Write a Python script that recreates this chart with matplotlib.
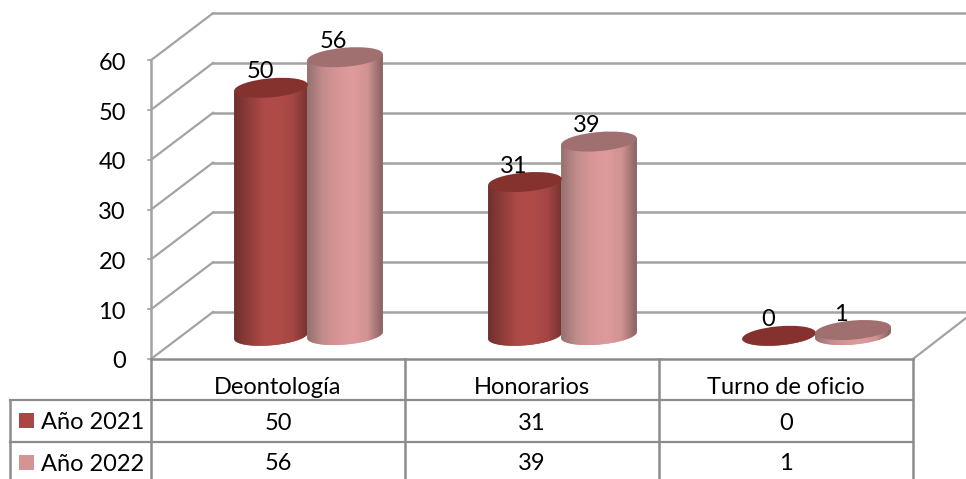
import matplotlib
matplotlib.use('Agg')
import matplotlib.pyplot as plt
from matplotlib.colors import LinearSegmentedColormap
from matplotlib.patches import Ellipse, Polygon, Rectangle
import numpy as np

# data
categories = ['Deontología', 'Honorarios', 'Turno de oficio']
anio_2021 = [50, 31, 0]
anio_2022 = [56, 39, 1]
y_ticks = [0, 10, 20, 30, 40, 50, 60]
series_names = ['Año 2021', 'Año 2022']

plt.rcParams['font.family'] = ['Lato', 'DejaVu Sans']
FS = 17.0
GRID = '#a3a3a3'
BORDER = '#8c8c8c'

fig = plt.figure(figsize=(9.66, 4.79), dpi=100)
ax = fig.add_axes([0, 0, 1, 1])
ax.axis('off')

# pixel layout of the 3d box
front_x = 151
back_dx = 62
back_dy = 47
floor_y = 359
px_per_unit = 4.98
col_w = 254
n_cols = len(categories)
right_x = front_x + col_w * n_cols


def val_y(v):
    return floor_y - v * px_per_unit


# walls and gridlines
for t in y_ticks:
    y = val_y(t)
    ax.plot([front_x, front_x + back_dx], [y, y - back_dy], color=GRID, lw=1.6, zorder=1)
    ax.plot([front_x + back_dx, 966], [y - back_dy, y - back_dy], color=GRID, lw=1.8, zorder=1)
    ax.plot([front_x - 3, front_x], [y, y], color=GRID, lw=1.2, zorder=1)
    ax.text(126, y + 3, str(t), ha='right', va='center', fontsize=FS, color='black')
ax.plot([front_x, front_x], [val_y(60), floor_y], color=GRID, lw=1.8, zorder=1)
ax.plot([right_x, 966], [floor_y, floor_y - 41], color=GRID, lw=1.6, zorder=1)

# cylinders
red_cm = LinearSegmentedColormap.from_list('r', ['#6f2f2d', '#8f3d3a', '#ae4a47', '#b04b48', '#a54644', '#763230'])
pink_cm = LinearSegmentedColormap.from_list('p', ['#94706f', '#c08c8b', '#d69695', '#df9b9b', '#d09292', '#866261'])
TILT = 5
grad = np.linspace(0, 1, 256).reshape(1, -1)


def cylinder(left, width, base_y, value, cmap, top_color):
    a = width / 2
    b = 9.5
    cx = left + a
    top_y = base_y - value * 4.96
    th = np.radians(TILT)
    t = np.linspace(np.pi, 2 * np.pi, 60)
    xs = cx + a * np.cos(t) * np.cos(th) - b * np.sin(t) * np.sin(th)
    ys = base_y - (a * np.cos(t) * np.sin(th) + b * np.sin(t) * np.cos(th))
    pts = list(zip(xs, ys))
    pts.append((xs[-1], ys[-1] - value * 4.96))
    pts.append((xs[0], ys[0] - value * 4.96))
    body = Polygon(pts, closed=True, facecolor=cmap(0.5), edgecolor='none', zorder=3)
    ax.add_patch(body)
    if value > 0:
        im = ax.imshow(grad, cmap=cmap, extent=[left, left + width, base_y + 12, top_y - 12],
                       aspect='auto', zorder=3)
        im.set_clip_path(body)
    ax.add_patch(Ellipse((cx, top_y), width, b * 2, angle=-TILT, facecolor=top_color,
                         edgecolor='none', zorder=4))
    return cx, top_y


for i in range(n_cols):
    group_left = front_x + 83 + col_w * i
    cx, ty = cylinder(group_left, 74, 335.8, anio_2021[i], red_cm, '#85322f')
    ax.text(cx - 11, ty - 16, str(anio_2021[i]), ha='center', va='center', fontsize=FS, color='black', zorder=2)
    cx, ty = cylinder(group_left + 73, 76, 335, anio_2022[i], pink_cm, '#a07070')
    ax.text(cx - 12, ty - 16, str(anio_2022[i]), ha='center', va='center', fontsize=FS, color='black', zorder=2)

# data table
row_ys = [floor_y, 400, 442, 479]
ax.plot([front_x, right_x], [floor_y, floor_y], color=BORDER, lw=1.8, zorder=5)
for y in row_ys[1:3]:
    ax.plot([10, right_x], [y, y], color=BORDER, lw=1.6, zorder=5)
ax.plot([10, 10], [row_ys[1], 479], color=BORDER, lw=1.8, zorder=5)
for i in range(n_cols + 1):
    ax.plot([front_x + col_w * i] * 2, [floor_y, 479], color=BORDER, lw=1.8, zorder=5)

for i, c in enumerate(categories):
    xc = front_x + col_w * (i + 0.5)
    ax.text(xc, 387, c, ha='center', va='center', fontsize=FS, color='black')
    ax.text(xc, 423, str(anio_2021[i]), ha='center', va='center', fontsize=FS, color='black')
    ax.text(xc, 464, str(anio_2022[i]), ha='center', va='center', fontsize=FS, color='black')

# legend keys inside the table
legend_colors = ['#aa4644', '#d49493']
for name, col, y in zip(series_names, legend_colors, [420.5, 462.5]):
    ax.add_patch(Rectangle((19, y - 7.5), 15, 15, facecolor=col, edgecolor='none', zorder=5))
    ax.text(41, y + 2, name, ha='left', va='center', fontsize=FS, color='black')

ax.set_xlim(0, 966)
ax.set_ylim(479, 0)
fig.savefig('out.png', dpi=100, facecolor='white')
